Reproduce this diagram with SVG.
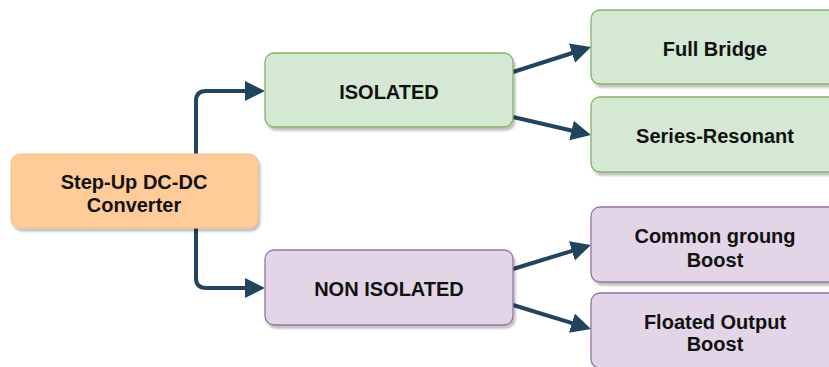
<svg xmlns="http://www.w3.org/2000/svg" width="829" height="367" viewBox="0 0 829 367">
<style>
  .t { font-family: "Liberation Sans", Arial, sans-serif; font-weight: bold; font-size: 20px; fill: #111; text-anchor: middle; }
  .g { fill: #d5e8d4; stroke: #82b366; stroke-width: 1.3; }
  .p { fill: #e1d5e7; stroke: #9673a6; stroke-width: 1.3; }
  .o { fill: #ffcc99; stroke: #f0bd8a; stroke-width: 1; }
  .c { fill: none; stroke: #23445d; stroke-width: 4; stroke-linejoin: round; }
</style>
<defs>
  <filter id="sh" x="-10%" y="-10%" width="130%" height="140%">
    <feDropShadow dx="2" dy="3" stdDeviation="1.2" flood-color="#000" flood-opacity="0.25"/>
  </filter>
  <marker id="ah" markerUnits="userSpaceOnUse" markerWidth="22" markerHeight="22" refX="2" refY="10" orient="auto">
    <path d="M0,0 L20,10 L0,20 z" fill="#23445d"/>
  </marker>
</defs>
<rect width="829" height="367" fill="#ffffff"/>
<g id="connectors">
  <path class="c" d="M196,154 V101 Q196,91 206,91 H247" marker-end="url(#ah)"/>
  <path class="c" d="M196,228 V278 Q196,288 206,288 H247" marker-end="url(#ah)"/>
  <path class="c" d="M513,72 L573.9,52.5" marker-end="url(#ah)"/>
  <path class="c" d="M513,117 L573.5,131" marker-end="url(#ah)"/>
  <path class="c" d="M513,269 L573.8,250.3" marker-end="url(#ah)"/>
  <path class="c" d="M513,305 L573.8,323.7" marker-end="url(#ah)"/>
</g>
<g id="root">
  <rect class="o" x="11" y="154" width="247" height="74" rx="9" filter="url(#sh)"/>
  <text class="t" x="134" y="188.5">Step-Up DC-DC</text>
  <text class="t" x="134" y="212">Converter</text>
</g>
<g id="isolated">
  <rect class="g" x="265" y="53" width="248" height="74" rx="9" filter="url(#sh)"/>
  <text class="t" x="389" y="99">ISOLATED</text>
</g>
<g id="full-bridge">
  <rect class="g" x="591" y="10" width="248" height="74" rx="9" filter="url(#sh)"/>
  <text class="t" x="715" y="56">Full Bridge</text>
</g>
<g id="series-resonant">
  <rect class="g" x="591" y="97" width="248" height="75" rx="9" filter="url(#sh)"/>
  <text class="t" x="715" y="143">Series-Resonant</text>
</g>
<g id="non-isolated">
  <rect class="p" x="265" y="250" width="248" height="75" rx="9" filter="url(#sh)"/>
  <text class="t" x="389" y="296">NON ISOLATED</text>
</g>
<g id="common-ground">
  <rect class="p" x="591" y="207" width="248" height="75" rx="9" filter="url(#sh)"/>
  <text class="t" x="715" y="243">Common groung</text>
  <text class="t" x="715" y="266.5">Boost</text>
</g>
<g id="floated-output">
  <rect class="p" x="591" y="293" width="248" height="75" rx="9" filter="url(#sh)"/>
  <text class="t" x="715" y="328.5">Floated Output</text>
  <text class="t" x="715" y="350.5">Boost</text>
</g>
</svg>
